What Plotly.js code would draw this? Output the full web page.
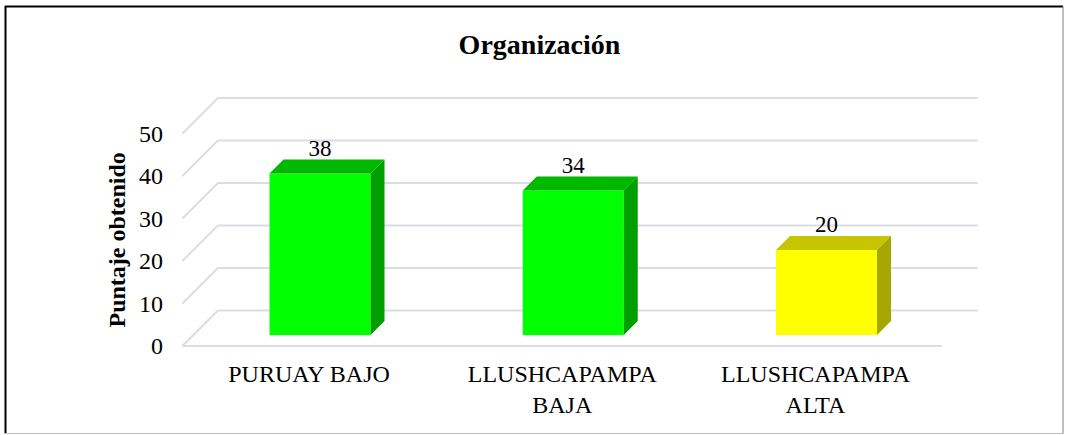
<!DOCTYPE html>
<html>
<head>
<meta charset="utf-8">
<script src="https://cdn.plot.ly/plotly-3.0.1.min.js"></script>
<style>
  html, body { margin: 0; padding: 0; background: #ffffff; }
  #chart { width: 1065px; height: 435px; }
</style>
</head>
<body>
<div id="chart"></div>
<script>
// ---------------- data ----------------
const categories = ['PURUAY BAJO', 'LLUSHCAPAMPA BAJA', 'LLUSHCAPAMPA ALTA'];
const categoryLabels = ['PURUAY BAJO', 'LLUSHCAPAMPA<br>BAJA', 'LLUSHCAPAMPA<br>ALTA'];
const values = [38, 34, 20];
const yTickValues = [0, 10, 20, 30, 40, 50];
const yTickLabels = ['0', '10', '20', '30', '40', '50'];
const chartTitle = 'Organización';
const yTitle = 'Puntaje obtenido';

// ---------------- styles ----------------
const frontColors = ['#00ff00', '#00ff00', '#ffff00'];
const topColors   = ['#00b800', '#00b800', '#c5c500'];
const sideColors  = ['#009f00', '#009f00', '#a6a600'];
const gridColor = '#dcdde4';
const FONT = 'Liberation Serif';

// ---------------- geometry (oblique 3D look) ----------------
const W = 1065, H = 435;
const M = { l: 170, r: 40, t: 60, b: 80 };
const X0 = 309, S = 253.25;     // pixel of category 0 on front plane, px per category
const PY0 = 346, K = 4.25;      // pixel of value 0 on front plane, px per unit
const plotW = W - M.l - M.r, plotH = H - M.t - M.b;
const xRange = [(M.l - X0) / S, (W - M.r - X0) / S];
const yRange = [(PY0 - (H - M.b)) / K, (PY0 - M.t) / K];

const depthPx = 35.5;                 // floor depth in pixels (45 degrees)
const Dx = depthPx / S, Dy = depthPx / K;
const dFront = 11 / depthPx, dBack = 25 / depthPx;
const barW = 101 / S;

const idx = categories.map((c, i) => i);
const xFirst = -0.5, xLast = categories.length - 0.5;

const traces = [];

// walls / gridlines (drawn as shapes below the traces)
const gridShapes = [];
const gLine = (x0, y0, x1, y1) => ({
  type: 'line', xref: 'x', yref: 'y', layer: 'below',
  x0: x0, y0: y0, x1: x1, y1: y1,
  line: { color: gridColor, width: 2 }
});
yTickValues.forEach(t => {
  gridShapes.push(gLine(xFirst + Dx, t + Dy, xLast + Dx, t + Dy));
  gridShapes.push(gLine(xFirst, t, xFirst + Dx, t + Dy));
});
gridShapes.push(gLine(xFirst, 0, xLast, 0));

// front faces
traces.push({
  type: 'bar',
  x: idx.map(i => i + dFront * Dx),
  y: values,
  base: values.map(() => dFront * Dy),
  width: barW,
  marker: { color: frontColors, line: { width: 0 } },
  hoverinfo: 'skip', showlegend: false
});

// top and side faces
idx.forEach(i => {
  const v = values[i];
  const xl = i + dFront * Dx - barW / 2;
  const xr = i + dFront * Dx + barW / 2;
  const base = dFront * Dy;
  const top = v + base;
  const ddx = (dBack - dFront) * Dx, ddy = (dBack - dFront) * Dy;
  traces.push({
    type: 'scatter', mode: 'lines', fill: 'toself',
    x: [xl, xr, xr + ddx, xl + ddx, xl],
    y: [top, top, top + ddy, top + ddy, top],
    fillcolor: topColors[i], line: { width: 0, color: topColors[i] },
    hoverinfo: 'skip', showlegend: false
  });
  traces.push({
    type: 'scatter', mode: 'lines', fill: 'toself',
    x: [xr, xr, xr + ddx, xr + ddx, xr],
    y: [base, top, top + ddy, base + ddy, base],
    fillcolor: sideColors[i], line: { width: 0, color: sideColors[i] },
    hoverinfo: 'skip', showlegend: false
  });
});

// data labels
traces.push({
  type: 'scatter', mode: 'text',
  x: idx.map(i => i + dFront * Dx),
  y: values.map(v => v + dBack * Dy + 2.2),
  text: values.map(v => String(v)),
  textposition: 'middle center',
  textfont: { family: FONT, size: 23, color: '#000000' },
  hoverinfo: 'skip', showlegend: false, cliponaxis: false
});

const px2paperX = px => (px - M.l) / plotW;
const py2paperY = py => (H - M.b - py) / plotH;

const borderShapes = [
  { type: 'line', xref: 'paper', yref: 'paper', x0: px2paperX(5), x1: px2paperX(1063), y0: py2paperY(6.5), y1: py2paperY(6.5), line: { color: '#000000', width: 2 } },
  { type: 'line', xref: 'paper', yref: 'paper', x0: px2paperX(5.5), x1: px2paperX(5.5), y0: py2paperY(6), y1: py2paperY(433.5), line: { color: '#000000', width: 2 } },
  { type: 'line', xref: 'paper', yref: 'paper', x0: px2paperX(5), x1: px2paperX(1063), y0: py2paperY(433.5), y1: py2paperY(433.5), line: { color: '#bfbfbf', width: 1 } },
  { type: 'line', xref: 'paper', yref: 'paper', x0: px2paperX(1063), x1: px2paperX(1063), y0: py2paperY(6), y1: py2paperY(433.5), line: { color: '#7f7f7f', width: 1 } }
];

const layout = {
  width: W, height: H,
  margin: M,
  paper_bgcolor: '#ffffff', plot_bgcolor: 'rgba(0,0,0,0)',
  showlegend: false,
  hovermode: false,
  font: { family: FONT, size: 24, color: '#000000' },
  title: {
    text: '<b>' + chartTitle + '</b>',
    font: { family: FONT, size: 28, color: '#000000' },
    xref: 'container', yref: 'container',
    x: 539.5 / W, xanchor: 'center',
    y: 1 - 44 / H, yanchor: 'middle'
  },
  xaxis: {
    range: xRange, fixedrange: true,
    tickvals: idx, ticktext: categoryLabels,
    showgrid: false, zeroline: false, showline: false, ticks: '',
    tickfont: { family: FONT, size: 24, color: '#000000' },
    ticklabelstandoff: 2
  },
  yaxis: {
    range: yRange, fixedrange: true,
    tickvals: yTickValues, ticktext: yTickLabels,
    showgrid: false, zeroline: false, showline: false, ticks: '',
    tickfont: { family: FONT, size: 24, color: '#000000' },
    ticklabelstandoff: 6
  },
  annotations: [{
    text: '<b>' + yTitle + '</b>',
    textangle: -90,
    xref: 'paper', yref: 'paper',
    x: px2paperX(116), y: py2paperY(240.5),
    xanchor: 'center', yanchor: 'middle',
    showarrow: false,
    font: { family: FONT, size: 24, color: '#000000' }
  }],
  shapes: gridShapes.concat(borderShapes)
};

Plotly.newPlot('chart', traces, layout, { displayModeBar: false, staticPlot: true });
</script>
</body>
</html>
